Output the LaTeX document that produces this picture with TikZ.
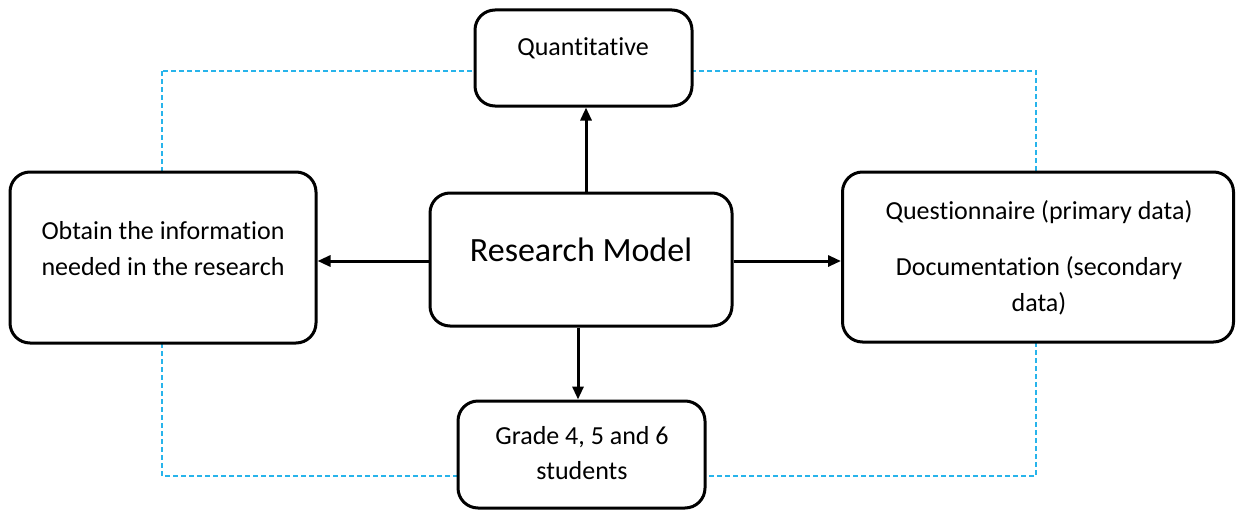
\documentclass[tikz,border=0pt]{standalone}
\usepackage{fontspec}
\setmainfont[Ligatures={NoCommon}]{Carlito}
\usetikzlibrary{arrows.meta}
\definecolor{dashblue}{RGB}{40,180,235}
\begin{document}
\begin{tikzpicture}[x=1pt,y=-1pt,
  box/.style={draw=black,line width=3pt,rounded corners=20pt,fill=white,inner sep=0pt},
  txt/.style={font=\fontsize{26}{36}\selectfont,inner sep=0pt,align=center,anchor=center},
  arr/.style={line width=3pt,-{Triangle[length=13pt,width=11pt]}}]
\useasboundingbox (0,0) rectangle (1236,511);
\draw[dashblue,line width=1.3pt,dash pattern=on 5pt off 3pt] (162,71) rectangle (1036,476);
\node[box,minimum width=217pt,minimum height=96pt] (q) at (583.5,58) {};
\node[box,minimum width=306pt,minimum height=171pt] (l) at (163,257.5) {};
\node[box,minimum width=302pt,minimum height=133pt] (rm) at (581,259.5) {};
\node[box,minimum width=391pt,minimum height=170pt] (r) at (1038,257) {};
\node[box,minimum width=247pt,minimum height=107pt] (b) at (581.5,454.5) {};
\node[txt] (qt) at (583,48) {Quantitative};
\node[txt] (lt1) at (163,231) {Obtain the information};
\node[txt] (lt2) at (163,267) {needed in the research};
\node[txt,font=\fontsize{34}{40}\selectfont] (rmt) at (581,250) {Research Model};
\node[txt] (rt1) at (1039,212) {Questionnaire (primary data)};
\node[txt] (rt2) at (1039,268) {Documentation (secondary};
\node[txt] (rt3) at (1039,304) {data)};
\node[txt] (bt1) at (582,437) {Grade 4, 5 and 6};
\node[txt] (bt2) at (582,471) {students};
\draw[arr] ([xshift=5pt]rm.north) -- ([xshift=5pt]rm.north |- q.south);
\draw[arr] ([xshift=-3pt]rm.south) -- ([xshift=-3pt]rm.south |- b.north);
\draw[arr] ([yshift=-1.5pt]rm.west) -- ([yshift=-1.5pt]rm.west -| l.east);
\draw[arr] ([yshift=-1.5pt]rm.east) -- ([yshift=-1.5pt]rm.east -| r.west);
\end{tikzpicture}
\end{document}
